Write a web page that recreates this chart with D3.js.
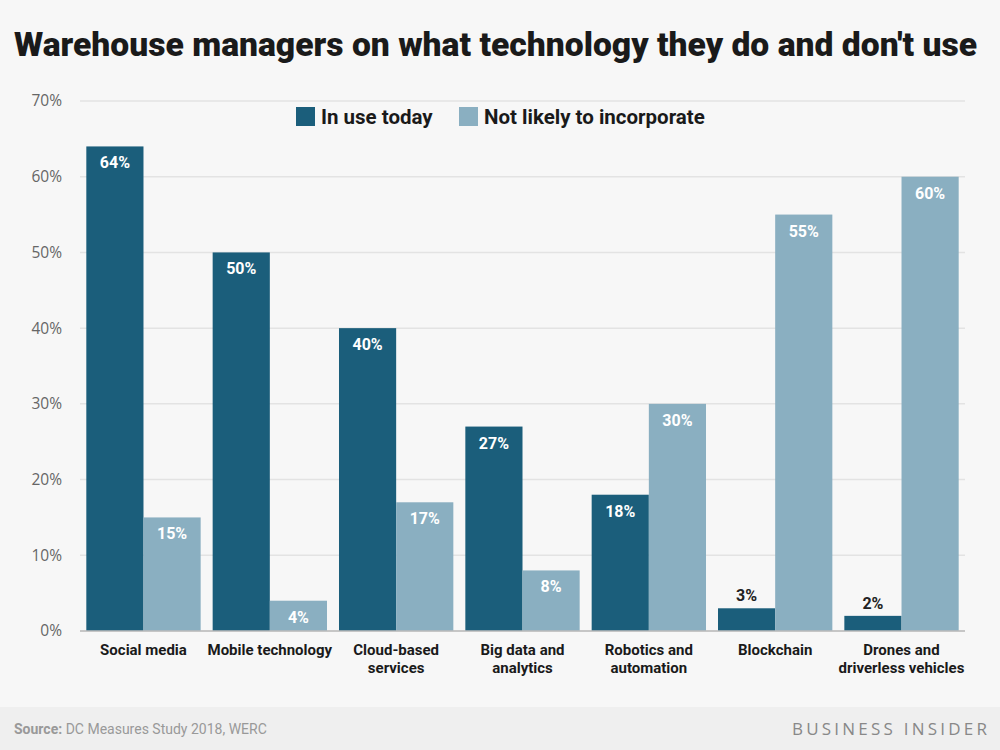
<!DOCTYPE html>
<html><head><meta charset="utf-8">
<script src="https://cdn.jsdelivr.net/npm/d3@7"></script>
<style>body{margin:0;background:#f7f7f7;}svg{display:block;}</style>
</head><body>
<script>
const categories = ["Social media","Mobile technology","Cloud-based\nservices","Big data and\nanalytics","Robotics and\nautomation","Blockchain","Drones and\ndriverless vehicles"];
const seriesNames = ["In use today","Not likely to incorporate"];
const inUse = [64,50,40,27,18,3,2];
const notLikely = [15,4,17,8,30,55,60];
const yTicks = [0,10,20,30,40,50,60,70];
const colors = ["#1b5e7b","#8aafc1"];

const W=1000,H=750;
const svg=d3.select("body").append("svg").attr("width",W).attr("height",H);
svg.append("rect").attr("width",W).attr("height",H).attr("fill","#f7f7f7");
svg.append("rect").attr("y",707).attr("width",W).attr("height",43).attr("fill","#efefef");

const m={l:80,r:965,t:101,b:631};
const x=d3.scaleBand().domain(categories).range([m.l,m.r]).paddingInner(0.095).paddingOuter(0.05);
const x1=d3.scaleBand().domain([0,1]).range([0,x.bandwidth()]);
const y=d3.scaleLinear().domain([0,70]).range([m.b,m.t]);

// grid
svg.append("g").selectAll("line").data(yTicks).join("line")
 .attr("x1",m.l).attr("x2",m.r).attr("y1",d=>y(d)).attr("y2",d=>y(d))
 .attr("stroke","#e3e3e3").attr("stroke-width",1.5);
const ya=d3.axisLeft(y).tickValues(yTicks).tickFormat(d=>d+"%").tickSize(0);
const yg=svg.append("g").attr("transform",`translate(${m.l-15},0)`).call(ya);
yg.select(".domain").remove();
yg.selectAll("text").attr("font-family","'Open Sans',sans-serif").attr("font-size",15.5).attr("fill","#666");

const data=categories.map((c,i)=>({c,v:[inUse[i],notLikely[i]]}));
const g=svg.append("g");
data.forEach(d=>{
  d.v.forEach((v,s)=>{
    const bx=x(d.c)+x1(s), bw=x1.bandwidth();
    g.append("rect").attr("x",bx).attr("width",bw).attr("y",y(v)).attr("height",y(0)-y(v)).attr("fill",colors[s]);
    const inside = v>=8 || (s===1 && v>=4);
    g.append("text").attr("x",bx+bw/2).attr("y",inside? y(v)+22 : y(v)-7)
     .attr("text-anchor","middle").attr("font-family","Roboto,sans-serif").attr("font-weight","bold")
     .attr("font-size",16).attr("fill",inside?"#fff":"#222").text(v+"%");
  });
});
// baseline
svg.append("line").attr("x1",m.l).attr("x2",m.r).attr("y1",y(0)).attr("y2",y(0)).attr("stroke","#bbb").attr("stroke-width",1.5);

// x labels
categories.forEach(c=>{
  const lines=c.split("\n");
  const t=svg.append("text").attr("x",x(c)+x.bandwidth()/2).attr("y",655).attr("text-anchor","middle")
   .attr("font-family","Roboto,sans-serif").attr("font-weight","bold").attr("font-size",15).attr("fill","#1a1a1a");
  lines.forEach((l,i)=>t.append("tspan").attr("x",x(c)+x.bandwidth()/2).attr("dy",i?17.5:0).text(l));
});

// title
svg.append("text").attr("x",14).attr("y",56).attr("font-family","Roboto,sans-serif").attr("font-weight","900")
 .attr("font-size",33).attr("fill","#1a1a1a").attr("textLength",963).attr("lengthAdjust","spacingAndGlyphs")
 .text("Warehouse managers on what technology they do and don't use");

// legend
const lg=svg.append("g");
lg.append("rect").attr("x",296).attr("y",107).attr("width",19).attr("height",19).attr("fill",colors[0]);
lg.append("text").attr("x",321).attr("y",124).attr("font-family","Roboto,sans-serif").attr("font-weight","bold").attr("font-size",20.5).attr("fill","#1a1a1a").text(seriesNames[0]);
lg.append("rect").attr("x",459).attr("y",107).attr("width",19).attr("height",19).attr("fill",colors[1]);
lg.append("text").attr("x",484).attr("y",124).attr("font-family","Roboto,sans-serif").attr("font-weight","bold").attr("font-size",20.5).attr("fill","#1a1a1a").text(seriesNames[1]);

// footer
const ft=svg.append("text").attr("x",14).attr("y",734).attr("font-family","Roboto,sans-serif").attr("font-size",14).attr("fill","#999");
ft.append("tspan").attr("font-weight","bold").text("Source: ");
ft.append("tspan").text("DC Measures Study 2018, WERC");
svg.append("text").attr("x",987).attr("y",735).attr("text-anchor","end").attr("font-family","'Open Sans',sans-serif")
 .attr("font-size",17).attr("textLength",195).attr("lengthAdjust","spacing").attr("fill","#888").text("BUSINESS INSIDER");
</script>
</body></html>
